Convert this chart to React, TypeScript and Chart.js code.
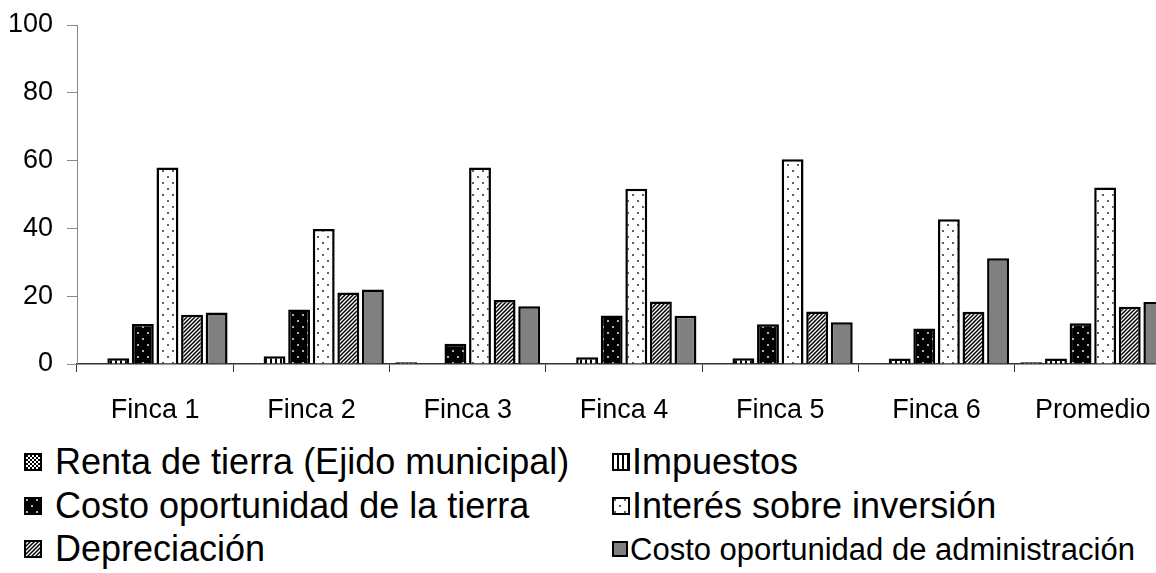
import React, { useEffect, useRef } from 'react';
import { Chart, registerables } from 'chart.js';

Chart.register(...registerables);

const FONT = '"Liberation Sans", Arial, sans-serif';

const categories = ['Finca 1', 'Finca 2', 'Finca 3', 'Finca 4', 'Finca 5', 'Finca 6', 'Promedio'];
const yTicks = [0, 20, 40, 60, 80, 100];

const rentaTierra = [0, 0, 0.5, 0, 0, 0, 0.5];
const impuestos = [1.7, 2.3, 0, 2.0, 1.7, 1.6, 1.6];
const costoTierra = [11.8, 16.1, 6.0, 14.3, 11.7, 10.5, 12.0];
const interes = [58.0, 39.8, 58.0, 51.7, 60.4, 42.7, 52.1];
const depreciacion = [14.5, 21.1, 18.9, 18.4, 15.5, 15.4, 16.9];
const costoAdmin = [15.2, 22.0, 17.0, 14.2, 12.3, 31.2, 18.3];

const seriesLabels = [
  'Renta de tierra (Ejido municipal)',
  'Impuestos',
  'Costo oportunidad de la tierra',
  'Interés sobre inversión',
  'Depreciación',
  'Costo oportunidad de administración',
];

type Kind = 'checker' | 'vlines' | 'blackdots' | 'whitedots' | 'hatch' | 'gray';
const kinds: Kind[] = ['checker', 'vlines', 'blackdots', 'whitedots', 'hatch', 'gray'];

function makeTile(kind: Kind): HTMLCanvasElement {
  const c = document.createElement('canvas');
  const g = c.getContext('2d')!;
  if (kind === 'checker') {
    c.width = 4; c.height = 4;
    g.fillStyle = '#fff'; g.fillRect(0, 0, 4, 4);
    g.fillStyle = '#000'; g.fillRect(0, 0, 2, 2); g.fillRect(2, 2, 2, 2);
  } else if (kind === 'vlines') {
    c.width = 5; c.height = 5;
    g.fillStyle = '#fff'; g.fillRect(0, 0, 5, 5);
    g.fillStyle = '#000'; g.fillRect(0, 0, 2, 5);
  } else if (kind === 'blackdots') {
    c.width = 10; c.height = 12;
    g.fillStyle = '#000'; g.fillRect(0, 0, 10, 12);
    g.fillStyle = '#b0b0b0'; g.fillRect(2, 2, 2, 2); g.fillRect(7, 8, 2, 2);
  } else if (kind === 'whitedots') {
    c.width = 10; c.height = 12;
    g.fillStyle = '#fff'; g.fillRect(0, 0, 10, 12);
    g.fillStyle = '#606060'; g.fillRect(2, 2, 2, 2); g.fillRect(7, 8, 2, 2);
  } else if (kind === 'hatch') {
    c.width = 4; c.height = 4;
    g.fillStyle = '#fff'; g.fillRect(0, 0, 4, 4);
    g.strokeStyle = '#000'; g.lineWidth = 1.5;
    g.beginPath();
    g.moveTo(0, 4); g.lineTo(4, 0);
    g.moveTo(-1, 1); g.lineTo(1, -1);
    g.moveTo(3, 5); g.lineTo(5, 3);
    g.stroke();
  } else {
    c.width = 2; c.height = 2;
    g.fillStyle = '#808080'; g.fillRect(0, 0, 2, 2);
  }
  return c;
}

function fillFor(kind: Kind, ctx: CanvasRenderingContext2D): CanvasPattern | string {
  if (kind === 'gray') return '#808080';
  return ctx.createPattern(makeTile(kind), 'repeat') as CanvasPattern;
}

function Swatch({ kind, size }: { kind: Kind; size: number }) {
  const ref = useRef<HTMLCanvasElement | null>(null);
  useEffect(() => {
    const c = ref.current!;
    const g = c.getContext('2d')!;
    g.clearRect(0, 0, size, size);
    g.fillStyle = fillFor(kind, g) as any;
    g.fillRect(0, 0, size, size);
    g.strokeStyle = '#000';
    g.lineWidth = 2;
    g.strokeRect(1, 1, size - 2, size - 2);
  }, [kind, size]);
  return <canvas ref={ref} width={size} height={size} style={{ display: 'block' }} />;
}

const legendLayout = [
  { left: 24, center: 462, size: 18, font: 36 },
  { left: 612, center: 462, size: 18, font: 36 },
  { left: 24, center: 506, size: 18, font: 36 },
  { left: 612, center: 506, size: 18, font: 36 },
  { left: 24, center: 549, size: 18, font: 36 },
  { left: 612, center: 549, size: 16, font: 31 },
];

export default function App() {
  const canvasRef = useRef<HTMLCanvasElement | null>(null);

  useEffect(() => {
    const canvas = canvasRef.current!;
    const ctx = canvas.getContext('2d')!;
    const dataSeries = [rentaTierra, impuestos, costoTierra, interes, depreciacion, costoAdmin];
    const chart = new Chart(ctx, {
      type: 'bar',
      data: {
        labels: categories,
        datasets: dataSeries.map((d, i) => ({
          label: seriesLabels[i],
          data: d,
          backgroundColor: fillFor(kinds[i], ctx) as any,
          borderColor: '#000',
          borderWidth: 2.5,
          categoryPercentage: 0.944,
          barPercentage: 0.89,
        })),
      },
      options: {
        animation: false,
        responsive: false,
        devicePixelRatio: 1,
        layout: { padding: { top: 25, right: 19, left: 0, bottom: 0 } },
        plugins: { legend: { display: false }, tooltip: { enabled: false } },
        scales: {
          x: {
            grid: { offset: true, drawOnChartArea: false, tickLength: 8, color: '#333', lineWidth: 1 },
            border: { color: '#333', width: 1.5 },
            ticks: { font: { size: 27, family: FONT }, color: '#000', padding: 22, maxRotation: 0, autoSkip: false },
            afterFit: (s: any) => { s.height = 66; },
          },
          y: {
            min: 0,
            max: 100,
            afterBuildTicks: (s: any) => { s.ticks = yTicks.map((v) => ({ value: v })); },
            ticks: { font: { size: 27, family: FONT }, color: '#000', padding: 14 },
            grid: { drawOnChartArea: false, tickLength: 10, color: '#888' },
            border: { color: '#888', width: 1 },
            afterFit: (s: any) => { s.width = 77; s.paddingTop = 0; s.paddingBottom = 0; },
          },
        },
      },
    });
    return () => chart.destroy();
  }, []);

  return (
    <div style={{ position: 'fixed', left: 0, top: 0, width: 1156, height: 573, overflow: 'hidden', background: '#fff' }}>
      <canvas ref={canvasRef} width={1190} height={430} style={{ position: 'absolute', left: 0, top: 0, width: 1190, height: 430 }} />
      {legendLayout.map((l, i) => (
        <div
          key={i}
          style={{
            position: 'absolute',
            left: l.left,
            top: l.center - 22,
            height: 44,
            display: 'flex',
            alignItems: 'center',
            whiteSpace: 'nowrap',
            fontFamily: FONT,
            fontSize: l.font,
            color: '#000',
          }}
        >
          <Swatch kind={kinds[i]} size={l.size} />
          <span style={{ marginLeft: i % 2 === 0 ? 13 : 2, lineHeight: 1 }}>{seriesLabels[i]}</span>
        </div>
      ))}
    </div>
  );
}
